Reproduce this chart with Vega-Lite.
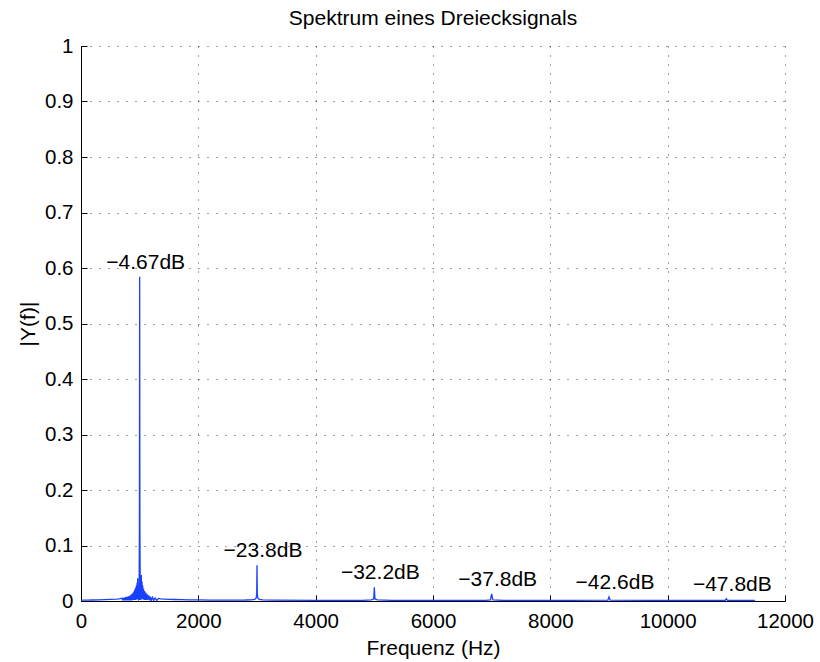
{
  "$schema": "https://vega.github.io/schema/vega-lite/v6.json",
  "width": 704,
  "height": 555,
  "autosize": {"type": "none"},
  "padding": {"left": 81, "top": 46, "right": 35, "bottom": 61},
  "background": "white",
  "title": {
    "text": "Spektrum eines Dreiecksignals",
    "font": "Liberation Sans",
    "fontSize": 21,
    "fontWeight": "normal",
    "color": "black",
    "offset": 7
  },
  "config": {
    "view": {"stroke": null},
    "font": "Liberation Sans",
    "axis": {
      "domainColor": "black",
      "domainWidth": 1,
      "tickColor": "black",
      "tickWidth": 1,
      "tickSize": -6,
      "labelFlush": false,
      "labelFont": "Liberation Sans",
      "labelFontSize": 20.5,
      "labelColor": "black",
      "titleFont": "Liberation Sans",
      "titleFontSize": 21,
      "titleFontWeight": "normal",
      "titleColor": "black",
      "grid": true,
      "gridColor": "black",
      "gridDash": [1, 8],
      "gridOpacity": 0.75,
      "gridWidth": 1
    }
  },
  "datasets": {
    "spectrum": [
      {"f": 0, "mag": 0.0015}, {"f": 100, "mag": 0.0016}, {"f": 200, "mag": 0.0018},
      {"f": 300, "mag": 0.002}, {"f": 400, "mag": 0.0023}, {"f": 500, "mag": 0.0028},
      {"f": 600, "mag": 0.0035}, {"f": 650, "mag": 0.004}, {"f": 700, "mag": 0.005},
      {"f": 710, "mag": 0.001}, {"f": 720, "mag": 0.0055}, {"f": 730, "mag": 0.001},
      {"f": 740, "mag": 0.006}, {"f": 750, "mag": 0.001}, {"f": 760, "mag": 0.007},
      {"f": 770, "mag": 0.001}, {"f": 780, "mag": 0.0075}, {"f": 790, "mag": 0.001},
      {"f": 800, "mag": 0.008}, {"f": 810, "mag": 0.001}, {"f": 820, "mag": 0.009},
      {"f": 830, "mag": 0.001}, {"f": 840, "mag": 0.010}, {"f": 850, "mag": 0.001},
      {"f": 860, "mag": 0.012}, {"f": 870, "mag": 0.001}, {"f": 880, "mag": 0.014},
      {"f": 890, "mag": 0.002}, {"f": 900, "mag": 0.017}, {"f": 908, "mag": 0.002},
      {"f": 915, "mag": 0.020}, {"f": 922, "mag": 0.002}, {"f": 930, "mag": 0.024},
      {"f": 937, "mag": 0.002}, {"f": 944, "mag": 0.028}, {"f": 950, "mag": 0.003},
      {"f": 956, "mag": 0.033}, {"f": 961, "mag": 0.003}, {"f": 966, "mag": 0.041},
      {"f": 972, "mag": 0.004}, {"f": 980, "mag": 0.002}, {"f": 990, "mag": 0.003},
      {"f": 996, "mag": 0.13}, {"f": 1000, "mag": 0.5843}, {"f": 1004, "mag": 0.13},
      {"f": 1010, "mag": 0.003}, {"f": 1020, "mag": 0.003}, {"f": 1028, "mag": 0.047},
      {"f": 1034, "mag": 0.004}, {"f": 1040, "mag": 0.035}, {"f": 1046, "mag": 0.003},
      {"f": 1052, "mag": 0.028}, {"f": 1058, "mag": 0.003}, {"f": 1066, "mag": 0.022},
      {"f": 1074, "mag": 0.002}, {"f": 1084, "mag": 0.018}, {"f": 1094, "mag": 0.002},
      {"f": 1105, "mag": 0.015}, {"f": 1115, "mag": 0.002}, {"f": 1128, "mag": 0.012},
      {"f": 1140, "mag": 0.002}, {"f": 1155, "mag": 0.010}, {"f": 1170, "mag": 0.001},
      {"f": 1185, "mag": 0.008}, {"f": 1200, "mag": 0.001}, {"f": 1220, "mag": 0.0065},
      {"f": 1240, "mag": 0.001}, {"f": 1265, "mag": 0.0055}, {"f": 1290, "mag": 0.001},
      {"f": 1320, "mag": 0.0048}, {"f": 1360, "mag": 0.004}, {"f": 1420, "mag": 0.0035},
      {"f": 1500, "mag": 0.003}, {"f": 1600, "mag": 0.0027}, {"f": 1700, "mag": 0.0024},
      {"f": 1850, "mag": 0.0021}, {"f": 2000, "mag": 0.0019}, {"f": 2200, "mag": 0.0017},
      {"f": 2500, "mag": 0.0016}, {"f": 2800, "mag": 0.0018}, {"f": 2900, "mag": 0.0022},
      {"f": 2960, "mag": 0.003}, {"f": 2985, "mag": 0.005}, {"f": 2995, "mag": 0.012},
      {"f": 3000, "mag": 0.0646}, {"f": 3005, "mag": 0.012}, {"f": 3015, "mag": 0.005},
      {"f": 3040, "mag": 0.003}, {"f": 3100, "mag": 0.002}, {"f": 3300, "mag": 0.0015},
      {"f": 4000, "mag": 0.0012}, {"f": 4800, "mag": 0.0013}, {"f": 4950, "mag": 0.002},
      {"f": 4990, "mag": 0.004}, {"f": 5000, "mag": 0.0245}, {"f": 5010, "mag": 0.004},
      {"f": 5050, "mag": 0.002}, {"f": 5300, "mag": 0.0012}, {"f": 6000, "mag": 0.001},
      {"f": 6900, "mag": 0.0012}, {"f": 6980, "mag": 0.002}, {"f": 7000, "mag": 0.0129},
      {"f": 7020, "mag": 0.002}, {"f": 7200, "mag": 0.001}, {"f": 8000, "mag": 0.001},
      {"f": 8980, "mag": 0.0015}, {"f": 9000, "mag": 0.0074}, {"f": 9020, "mag": 0.0015},
      {"f": 10000, "mag": 0.001}, {"f": 10980, "mag": 0.0012}, {"f": 11000, "mag": 0.0041},
      {"f": 11020, "mag": 0.0012}, {"f": 11490, "mag": 0.001}
    ],
    "peaks": [
      {"f": 1000, "mag": 0.5843, "label": "−4.67dB"},
      {"f": 3000, "mag": 0.0646, "label": "−23.8dB"},
      {"f": 5000, "mag": 0.0245, "label": "−32.2dB"},
      {"f": 7000, "mag": 0.0129, "label": "−37.8dB"},
      {"f": 9000, "mag": 0.0074, "label": "−42.6dB"},
      {"f": 11000, "mag": 0.0041, "label": "−47.8dB"}
    ]
  },
  "layer": [
    {
      "data": {"name": "spectrum"},
      "mark": {"type": "line", "color": "#1a40ff", "strokeWidth": 1.3, "clip": true},
      "encoding": {
        "x": {
          "field": "f",
          "type": "quantitative",
          "scale": {"domain": [0, 12000], "nice": false, "zero": false},
          "axis": {
            "title": "Frequenz (Hz)",
            "values": [0, 2000, 4000, 6000, 8000, 10000, 12000],
            "format": "d",
            "labelPadding": 16,
            "titlePadding": 6
          }
        },
        "y": {
          "field": "mag",
          "type": "quantitative",
          "scale": {"domain": [0, 1], "nice": false},
          "axis": {
            "title": "|Y(f)|",
            "values": [0, 0.1, 0.2, 0.3, 0.4, 0.5, 0.6, 0.7, 0.8, 0.9, 1],
            "labelExpr": "datum.value == 0 ? '0' : datum.value == 1 ? '1' : format(datum.value, '.1f')",
            "labelPadding": 14,
            "titlePadding": 6
          }
        }
      }
    },
    {
      "data": {"name": "peaks"},
      "mark": {
        "type": "text",
        "font": "Liberation Sans",
        "fontSize": 21,
        "color": "black",
        "align": "center",
        "baseline": "alphabetic",
        "dx": 6,
        "dy": -8
      },
      "encoding": {
        "x": {"field": "f", "type": "quantitative"},
        "y": {"field": "mag", "type": "quantitative"},
        "text": {"field": "label"}
      }
    }
  ]
}
